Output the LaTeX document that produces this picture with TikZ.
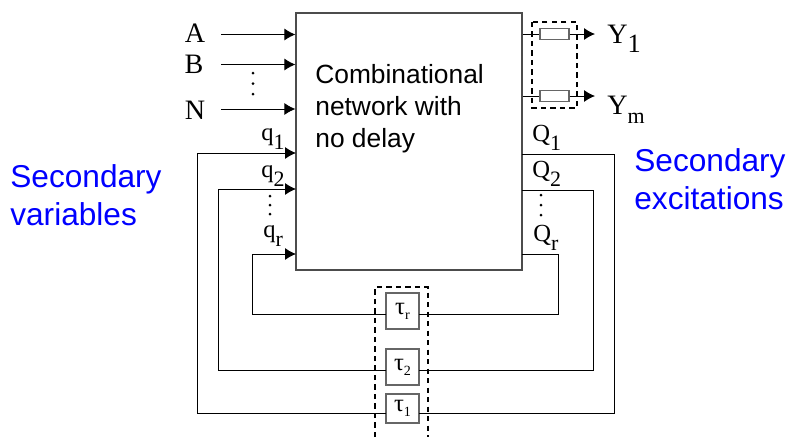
\documentclass[tikz,border=0pt]{standalone}
\usepackage{fontspec}
\setmainfont{Liberation Serif}
\newfontfamily\arialfont{Liberation Sans}
\usetikzlibrary{arrows.meta}
\newcommand{\lowidx}[2][-5.5pt]{\raisebox{#1}{\fontsize{12.5}{14}\selectfont #2}}
\newcommand{\tauidx}[1]{\raisebox{-3pt}{\fontsize{8}{9}\selectfont #1}}

\begin{document}
\begin{tikzpicture}[x=0.02cm,y=-0.02cm,
    netnode/.style={draw=black!70, line width=0.7pt, minimum width=4.52cm, minimum height=5.14cm, inner sep=0pt},
    delaynode/.style={draw=black!60, fill=white, line width=0.8pt, minimum width=0.66cm, inner sep=0pt, font=\fontsize{14}{16}\selectfont},
    loadnode/.style={draw=black!60, fill=white, line width=0.7pt, minimum width=0.58cm, minimum height=0.22cm, inner sep=0pt},
    invar/.style={font=\fontsize{16}{18}\selectfont},
    stvar/.style={font=\fontsize{14}{16}\selectfont, anchor=base west, inner sep=0pt},
    outvar/.style={font=\fontsize{16}{18}\selectfont, anchor=base west, inner sep=0pt},
    bluetext/.style={font=\arialfont\fontsize{18}{21.6}\selectfont, text=blue, align=left, anchor=base west, inner sep=0pt},
    dotnode/.style={circle, fill=black, inner sep=0pt, minimum size=0.06cm},
    wire/.style={line width=0.55pt},
    sig/.style={wire, -{Latex[length=2.2mm,width=2.4mm]}},
    dashbox/.style={line width=1pt, dash pattern=on 3pt off 2.4pt}]
    \useasboundingbox (0,0) rectangle (788,437);

    \node[netnode] (net) at (409,141.5) {};
    \node[font=\arialfont\fontsize{15}{18}\selectfont, align=left, anchor=base west, inner sep=0pt] (netlabel) at (315,147) {Combinational\\network with\\no delay};

    \node[invar] (A) at (195,33) {A};
    \node[invar] (B) at (194,64) {B};
    \node[invar] (N) at (195,110) {N};
    \coordinate (Aend) at (221,34.5);
    \coordinate (Bend) at (221,64.5);
    \coordinate (Nend) at (221,109);
    \draw[sig] (Aend) -- (Aend -| net.west);
    \draw[sig] (Bend) -- (Bend -| net.west);
    \draw[sig] (Nend) -- (Nend -| net.west);
    \foreach \y in {73,83.5,94} \node[dotnode] at (253,\y) {};

    % outputs
    \node[loadnode] (load1) at (554.5,34) {};
    \node[loadnode] (loadm) at (554.5,96) {};
    \node[outvar] (Y1) at (607,43) {Y\raisebox{-5.5pt}{\fontsize{15}{17}\selectfont 1}};
    \node[outvar] (Ym) at (607,114) {Y\lowidx{m}};
    \coordinate (Y1end) at (595,34);
    \coordinate (Ymend) at (595,96);
    \draw[wire] (load1.west -| net.east) -- (load1.west);
    \draw[wire] (loadm.west -| net.east) -- (loadm.west);
    \draw[sig] (load1.east) -- (Y1end);
    \draw[sig] (loadm.east) -- (Ymend);
    \draw[dashbox] (532,22) rectangle (577,108);

    % delays
    \node[delaynode, minimum height=0.72cm] (taur) at (402.5,311) {τ\tauidx{r}};
    \node[delaynode, minimum height=0.72cm] (tau2) at (402.5,367) {τ\tauidx{2}};
    \node[delaynode, minimum height=0.58cm] (tau1) at (402.5,408.5) {τ\tauidx{1}};
    \coordinate (trw) at (386,314);
    \coordinate (tre) at (419,314);
    \coordinate (t2w) at (386,370);
    \coordinate (t2e) at (419,370);
    \coordinate (t1w) at (386,413);
    \coordinate (t1e) at (419,413);

    \coordinate (q1in) at (296,153);
    \coordinate (q2in) at (296,189);
    \coordinate (qrin) at (296,254);
    \coordinate (Q1out) at (522,154);
    \coordinate (Q2out) at (522,190);
    \coordinate (Qrout) at (522,254);

    \draw[sig] (t1w) -- (197,413) -- (197,153) -- (q1in);
    \draw[sig] (t2w) -- (218,370) -- (218,189) -- (q2in);
    \draw[sig] (trw) -- (252,314) -- (252,254) -- (qrin);
    \draw[wire] (Q1out) -- (614,154) -- (614,413) -- (t1e);
    \draw[wire] (Q2out) -- (593,190) -- (593,370) -- (t2e);
    \draw[wire] (Qrout) -- (558,254) -- (558,314) -- (tre);
    \draw[dashbox] (375,437) -- (375,287) -- (428,287) -- (428,437);

    % state labels
    \node[stvar] (q1) at (261,140) {q\lowidx{1}};
    \node[stvar] (q2) at (261,177) {q\lowidx{2}};
    \node[stvar] (qr) at (263,237) {q\lowidx{r}};
    \node[stvar] (Q1) at (532,141) {Q\lowidx{1}};
    \node[stvar] (Q2) at (532,177) {Q\lowidx{2}};
    \node[stvar] (Qr) at (533,241) {Q\lowidx{r}};
    \foreach \y in {196,205,214} \node[dotnode] at (270,\y) {};
    \foreach \y in {195,205,215} \node[dotnode] at (541,\y) {};

    \node[bluetext] (secvar) at (10,225) {Secondary\\variables};
    \node[bluetext] (secexc) at (634,209) {Secondary\\excitations};
\end{tikzpicture}
\end{document}
